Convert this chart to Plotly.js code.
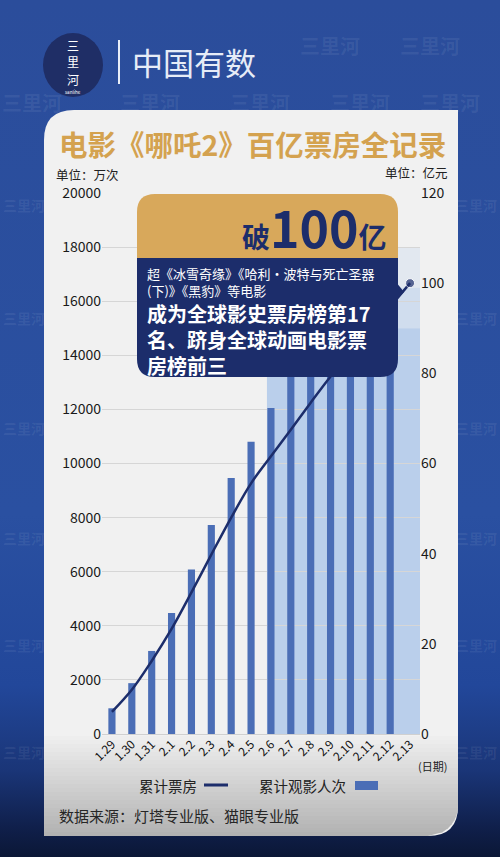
<!DOCTYPE html>
<html><head><meta charset="utf-8">
<script src="https://cdn.plot.ly/plotly-3.0.1.min.js"></script>
<style>
html,body{margin:0;padding:0;}
body{width:500px;height:857px;background:linear-gradient(#2b4d9b 0%,#2a50a1 60%,#22479a 80%,#1a3577 90%,#0f1e48 97%,#0b1736 100%);}
#chart{width:500px;height:857px;}
</style>
</head><body><div id="chart"></div>
<script>
// ---- data ----
const dates = ['1.29','1.30','1.31','2.1','2.2','2.3','2.4','2.5','2.6','2.7','2.8','2.9','2.10','2.11','2.12','2.13'];
const admissions = [950,1880,3070,4470,6080,7730,9460,10800,12050,13450,14650,15800,16850,17850,18850,null]; // 万次
const boxOffice = [4.9,9.8,16.2,23.3,31.4,39.8,48.0,55.6,61.6,67.5,73.5,79.3,84.6,89.7,94.8,100]; // 亿元
const leftTicks = [0,2000,4000,6000,8000,10000,12000,14000,16000,18000,20000];
const rightTicks = [0,20,40,60,80,100,120];
const titleText = '电影《哪吒2》百亿票房全记录';
const lineName = '累计票房';
const barName = '累计观影人次';

// ---- helpers (pixel -> paper) ----
const W = 500, H = 857;
const px = x => x / W;
const py = y => 1 - y / H;
const pt = (x, y) => px(x).toFixed(5) + ',' + py(y).toFixed(5);
function rr(x0, y0, x1, y1, tl, tr, br, bl) {
  return 'M' + pt(x0 + tl, y0) + ' L' + pt(x1 - tr, y0) + ' Q' + pt(x1, y0) + ' ' + pt(x1, y0 + tr) +
    ' L' + pt(x1, y1 - br) + ' Q' + pt(x1, y1) + ' ' + pt(x1 - br, y1) +
    ' L' + pt(x0 + bl, y1) + ' Q' + pt(x0, y1) + ' ' + pt(x0, y1 - bl) +
    ' L' + pt(x0, y0 + tl) + ' Q' + pt(x0, y0) + ' ' + pt(x0 + tl, y0) + ' Z';
}
const FONT = '"Noto Sans CJK SC", "Noto Sans", sans-serif';
const NAVY = '#1c2d6b', BAR = '#4b6eb6', GOLD = '#d8a85b';

const shapes = [];
// card
shapes.push({type:'path', xref:'paper', yref:'paper', layer:'below', line:{width:0}, fillcolor:'#f1f1f1',
  path: rr(44,110,458,836,30,0,30,0)});
// bottom gradient bands of the card
const xr = y => (y <= 806 ? 458 : 428 + Math.sqrt(Math.max(0, 900 - (y - 806) * (y - 806))));
for (let y = 736; y < 836; y += 4) {
  const t = (y - 736) / 100;
  const g = Math.round(238 - t * 62);
  const ya = y, yb = Math.min(836, y + 4.5);
  shapes.push({type:'path', xref:'paper', yref:'paper', layer:'below', line:{width:0},
    fillcolor:`rgb(${g},${g},${g})`,
    path: 'M' + pt(44, ya) + ' L' + pt(xr(ya), ya) + ' L' + pt(xr(yb), yb) + ' L' + pt(44, yb) + ' Z'});
}
// highlight region
shapes.push({type:'rect', xref:'x', yref:'y', layer:'below', line:{width:0}, x0:7.8, x1:15.5, y0:0, y1:15000, fillcolor:'rgba(150,185,232,0.6)'});
shapes.push({type:'rect', xref:'x', yref:'y', layer:'below', line:{width:0}, x0:7.8, x1:15.5, y0:15000, y1:16500, fillcolor:'rgba(160,192,234,0.4)'});
shapes.push({type:'rect', xref:'x', yref:'y', layer:'below', line:{width:0}, x0:7.8, x1:15.5, y0:16500, y1:18000, fillcolor:'rgba(175,200,236,0.22)'});
// header logo
shapes.push({type:'circle', xref:'paper', yref:'paper', layer:'below', line:{width:0}, fillcolor:'#1f2e66',
  x0:px(43), x1:px(103), y0:py(97), y1:py(33)});
shapes.push({type:'line', xref:'paper', yref:'paper', layer:'below', line:{width:2, color:'#e9eef8'},
  x0:px(119), x1:px(119), y0:py(40), y1:py(84)});
// annotation box
shapes.push({type:'path', xref:'paper', yref:'paper', layer:'above', line:{width:0}, fillcolor:GOLD,
  path: rr(137,194,398,262,18,18,0,0)});
shapes.push({type:'path', xref:'paper', yref:'paper', layer:'above', line:{width:0}, fillcolor:NAVY,
  path: rr(137,258,398,377,0,0,18,18)});
shapes.push({type:'path', xref:'paper', yref:'paper', layer:'above', line:{width:0}, fillcolor:NAVY,
  path: 'M' + pt(396,282) + ' L' + pt(404,292) + ' L' + pt(396,300) + ' Z'});
// legend marks
shapes.push({type:'line', xref:'paper', yref:'paper', layer:'above', line:{width:3, color:NAVY},
  x0:px(204), x1:px(228), y0:py(785), y1:py(785)});
shapes.push({type:'rect', xref:'paper', yref:'paper', layer:'above', line:{width:0}, fillcolor:BAR,
  x0:px(355), x1:px(378), y0:py(790), y1:py(781)});

const ann = [];
function txt(text, x, y, size, color, opts) {
  ann.push(Object.assign({text, x:px(x), y:py(y), xref:'paper', yref:'paper', showarrow:false,
    xanchor:'left', yanchor:'middle', font:{family:FONT, size, color}}, opts || {}));
}
// watermarks
const wm = 'rgba(255,255,255,0.07)';
[[330,45],[430,45],[32,102],[150,102],[260,102],[360,102],[450,102]].forEach(p =>
  txt('<b>三里河</b>', p[0], p[1], 20, wm, {xanchor:'center'}));
[[24,205],[476,205],[24,318],[476,318],[24,428],[476,428],[24,538],[476,538],[24,645],[476,645],[24,752],[476,752]].forEach(p =>
  txt('<b>三里河</b>', p[0], p[1], 14, wm, {xanchor:'center'}));
// header
txt('三', 73, 45, 12, '#ffffff', {xanchor:'center', borderpad:0});
txt('里', 73, 62, 12, '#ffffff', {xanchor:'center', borderpad:0});
txt('河', 73, 79, 12, '#ffffff', {xanchor:'center', borderpad:0});
txt('sanlihe', 73, 92, 4.5, '#ffffff', {xanchor:'center', borderpad:0});
txt('中国有数', 130, 62, 31, '#e6ecf7');
// title
txt('<b>' + titleText + '</b>', 252, 143, 28.5, '#d4a24f', {xanchor:'center'});
txt('单位：万次', 55, 174, 12.5, '#222222', {borderpad:0});
txt('单位：亿元', 449, 173, 12.5, '#222222', {xanchor:'right', borderpad:0});
txt('(日期)', 416, 766, 11, '#222222');
// callout text
txt('<b><span style="font-size:28px">破</span><span style="font-size:50px">100</span><span style="font-size:28px">亿</span></b>', 388, 226, 28, NAVY, {xanchor:'right', borderpad:0});
txt('超《冰雪奇缘》《哈利·波特与死亡圣器<br>(下)》《黑豹》等电影', 146, 282, 13, '#ffffff', {align:'left', borderpad:0});
txt('<b>成为全球影史票房榜第17<br>名、跻身全球动画电影票<br>房榜前三</b>', 146, 339.5, 20, '#ffffff', {align:'left', borderpad:0});
// legend + source
txt(lineName, 137, 785, 14.5, '#222222');
txt(barName, 257, 785, 14.5, '#222222');
txt('数据来源：灯塔专业版、猫眼专业版', 57, 815, 15, '#262626');

const traces = [
  {type:'bar', x:dates, y:admissions, name:barName, yaxis:'y', width:0.36, marker:{color:BAR}, hoverinfo:'skip'},
  {type:'scatter', mode:'lines+markers', x:dates, y:boxOffice, name:lineName, yaxis:'y2',
    line:{color:NAVY, width:2.5, shape:'spline', smoothing:1}, cliponaxis:false,
    marker:{color:NAVY, size:dates.map((d,i)=> i === dates.length - 1 ? 9 : 0)}, hoverinfo:'skip'}
];

const layout = {
  width:W, height:H, autosize:false, margin:{l:0,r:0,t:0,b:0},
  paper_bgcolor:'rgba(0,0,0,0)', plot_bgcolor:'rgba(0,0,0,0)',
  showlegend:false, font:{family:FONT},
  xaxis:{type:'category', domain:[px(102), px(420)], range:[-0.5, 15.5], tickangle:-45,
    tickfont:{size:12, color:'#111111', family:FONT}, showgrid:false, ticks:'', showline:false, zeroline:false},
  yaxis:{domain:[py(734), py(193)], range:[0,20000], tickvals:leftTicks, ticktext:leftTicks.map(String),
    tickfont:{size:14, color:'#1a1a1a', family:FONT}, gridcolor:'#d6d6d6', gridwidth:1,
    zeroline:true, zerolinecolor:'#d0d0d0', showline:false, ticks:''},
  yaxis2:{overlaying:'y', side:'right', range:[0,120], tickvals:rightTicks, ticktext:rightTicks.map(String),
    tickfont:{size:14, color:'#1a1a1a', family:FONT}, showgrid:false, zeroline:false, showline:false, ticks:''},
  shapes, annotations:ann
};
Plotly.newPlot('chart', traces, layout, {displayModeBar:false, staticPlot:true});
</script>
</body></html>
